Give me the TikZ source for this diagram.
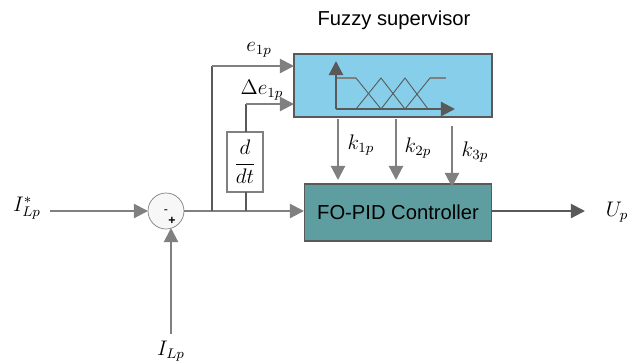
\documentclass[tikz,border=0pt]{standalone}
\usepackage{amsmath}
\usepackage{fontspec}
\setmainfont{Liberation Sans}
\usetikzlibrary{arrows.meta}
\definecolor{fuzzyblue}{HTML}{87CEEB}
\definecolor{pidgreen}{HTML}{5F9EA0}
\definecolor{boxline}{HTML}{595959}
\tikzset{
  sigline/.style={draw=gray,line width=1.2pt},
  sigarrow/.style={sigline,-{Triangle[length=8pt,width=8pt]}},
  thinline/.style={draw=boxline,line width=0.6pt},
  axisline/.style={draw=boxline,line width=1.3pt,-{Triangle[length=8pt,width=8pt]}},
  mfline/.style={draw=boxline,line width=0.5pt},
  blockbox/.style={draw=boxline,line width=0.6pt,inner sep=0pt,outer sep=0pt},
  mathlabel/.style={font=\large,inner sep=0pt},
}
\begin{document}
\begin{tikzpicture}[x=0.02cm,y=-0.02cm]
	\useasboundingbox (0,0) rectangle (632,363);

	% blocks
	\node[blockbox,fill=fuzzyblue,minimum width=3.96cm,minimum height=1.26cm] (fuzzy) at (393,85.5) {};
	\node[blockbox,fill=pidgreen,minimum width=3.75cm,minimum height=1.14cm,font=\fontsize{11.5}{13}\selectfont] (pid) at (398,212.5) {FO-PID Controller};
	\node[blockbox,draw=gray,line width=0.9pt,fill=white,minimum width=0.72cm,minimum height=1.2cm,font=\large] (deriv) at (245,162) {$\dfrac{d}{dt}$};
	\node[circle,draw=gray,fill=gray!6,inner sep=0pt,outer sep=0pt,minimum size=0.72cm] (sum) at (166,211) {};
	\node[font=\scriptsize] (minus) at (166,212) {-};
	\node[font=\scriptsize\bfseries] (plus) at (172,221) {+};

	% labels
	\node[font=\fontsize{11.5}{13}\selectfont] (title) at (394,20) {Fuzzy supervisor};
	\node[mathlabel] (Iref) at (27,208) {$I^{*}_{Lp}$};
	\node[mathlabel] (Ifb) at (171,351) {$I_{Lp}$};
	\node[mathlabel] (Up) at (617,212) {$U_p$};
	\node[mathlabel] (elabel) at (259,50) {$e_{1p}$};
	\node[mathlabel] (delabel) at (262,90) {$\Delta e_{1p}$};
	\node[mathlabel] (k1) at (361,145) {$k_{1p}$};
	\node[mathlabel] (k2) at (418,148) {$k_{2p}$};
	\node[mathlabel] (k3) at (475,152) {$k_{3p}$};

	% free ends and branch points
	\coordinate (Irefend) at (50,211);
	\coordinate (Ifbend) at (171,334);
	\coordinate (sumin) at (171,228);
	\coordinate (branchA) at (212,211);
	\coordinate (branchB) at (246,211);
	\coordinate (cornerA) at (212,66);
	\coordinate (cornerB) at (246,104);
	\coordinate (fuzzyA) at (294,66);
	\coordinate (fuzzyB) at (294,104);
	\coordinate (pidin) at (304,211);
	\coordinate (pidout) at (492,211);
	\coordinate (Upend) at (585,211);

	% main signal path
	\draw[sigarrow] (Irefend) -- (sum.west);
	\draw[sigarrow] (Ifbend) -- (sumin);
	\draw[sigarrow] (sum.east) -- (pidin);
	\draw[sigarrow,draw=boxline] (pidout) -- (Upend);

	% feedback to the supervisor
	\draw[thinline] (branchA) -- (cornerA);
	\draw[sigarrow] (cornerA) -- (fuzzyA);
	\draw[thinline] (branchB) -- (deriv.south -| branchB);
	\draw[thinline] (deriv.north -| cornerB) -- (cornerB);
	\draw[sigarrow] (cornerB) -- (fuzzyB);

	% gains
	\coordinate (k1a) at (338,119);
	\coordinate (k1b) at (338,180);
	\coordinate (k2a) at (396,119);
	\coordinate (k2b) at (396,180);
	\coordinate (k3a) at (452,126);
	\coordinate (k3b) at (452,187);
	\draw[sigarrow] (k1a) -- (k1b);
	\draw[sigarrow] (k2a) -- (k2b);
	\draw[sigarrow] (k3a) -- (k3b);

	% membership functions inside the supervisor
	\draw[sigline,line width=0.7pt] (337,78) -- (356,78);
	\draw[sigline,line width=0.7pt] (430,78) -- (446,78);
	\draw[mfline] (356,78) -- (381,109);
	\draw[mfline] (356,109) -- (381,78) -- (405,109);
	\draw[mfline] (381,109) -- (405,78) -- (428,109);
	\draw[mfline] (405,109) -- (430,78);
	\draw[axisline] (336,109) -- (336,61);
	\draw[axisline] (336,109) -- (455,109);
\end{tikzpicture}
\end{document}
